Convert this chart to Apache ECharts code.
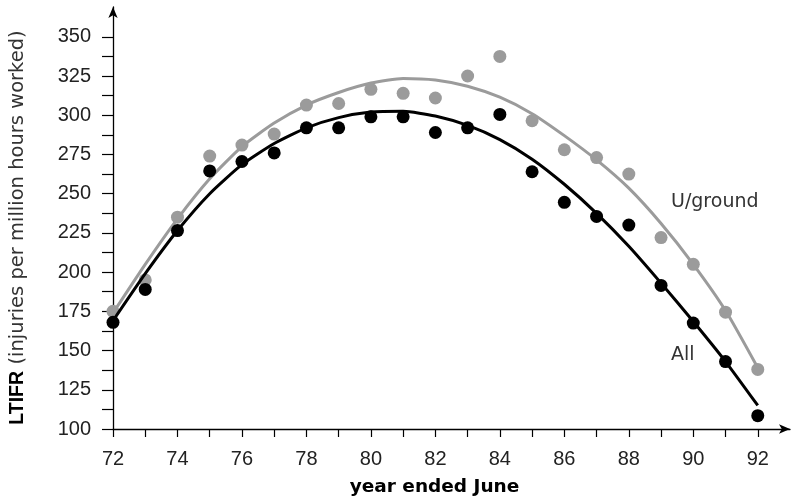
<!DOCTYPE html>
<html>
<head>
<meta charset="utf-8">
<script src="https://cdn.jsdelivr.net/npm/echarts@6/dist/echarts.min.js"></script>
<style>html,body{margin:0;padding:0;background:#fff}#c{width:794px;height:500px}</style>
</head>
<body>
<div id="c"></div>
<script>
// ---- data ----
var years = [72,73,74,75,76,77,78,79,80,81,82,83,84,85,86,87,88,89,90,91,92];
var allPoints = [168,189,226.5,264.5,270.5,276,292,292,299,299,289,292,300.5,264,244.5,235.5,230,191.5,167.5,143,108.5];
var ugPoints  = [175,195,235,274,281,288,306.5,307.5,316.5,314,311,325,337.5,296.5,278,273,262.5,222,205,174.5,138];
var allTrend  = [169,199,226.5,250,268.5,282,292,298.5,302,302.5,299.5,293.5,284.5,272,256,237.5,216.5,193,168.5,143,115];
var ugTrend   = [174,205,234,259.5,280,295,306.5,314.5,320.5,323.5,322.5,318.5,311.5,301,287,271.5,253.5,231,205,175.5,139];
var yTickValues  = [100,112.5,125,137.5,150,162.5,175,187.5,200,212.5,225,237.5,250,262.5,275,287.5,300,312.5,325,337.5,350];
var yLabelValues = [100,125,150,175,200,225,250,275,300,325,350];
var xTickValues  = years;
var xLabelValues = [72,74,76,78,80,82,84,86,88,90,92];

function pairs(xs, ys){ return xs.map(function(x,i){ return [x, ys[i]]; }); }

var NUMFONT = '"Liberation Sans", Arial, sans-serif';
var TXTFONT = '"DejaVu Sans", sans-serif';
var GRAY = '#9b9b9b';

var chart = echarts.init(document.getElementById('c'), null, {renderer:'canvas'});
chart.setOption({
  animation:false,
  backgroundColor:'#fff',
  grid:{left:113, right:4, top:7, bottom:71, containLabel:false, outerBoundsMode:'none'},
  xAxis:{
    type:'value', min:72, max:93,
    axisLine:{show:true, symbol:['none','arrow'], symbolSize:[7,11], lineStyle:{color:'#000', width:1.3}},
    axisTick:{show:true, length:8, lineStyle:{color:'#000', width:1.2}, customValues:xTickValues},
    axisLabel:{customValues:xLabelValues, margin:20, fontSize:20, fontFamily:NUMFONT, color:'#222'},
    splitLine:{show:false},
    name:'year ended June', nameLocation:'middle', nameGap:49,
    nameTextStyle:{fontSize:18.5, fontWeight:'bold', fontFamily:TXTFONT, color:'#000', padding:[0,34,0,0]}
  },
  yAxis:{
    type:'value', min:100, max:369,
    axisLine:{show:true, symbol:['none','arrow'], symbolSize:[7,11], lineStyle:{color:'#000', width:1.3}},
    axisTick:{show:true, length:11, lineStyle:{color:'#000', width:1.2}, customValues:yTickValues},
    axisLabel:{customValues:yLabelValues, margin:22, fontSize:20, fontFamily:NUMFONT, color:'#222'},
    splitLine:{show:false},
    name:'{b|LTIFR} {n|(injuries per million hours worked)}', nameLocation:'middle', nameRotate:90, nameGap:85,
    nameTextStyle:{fontSize:20, fontFamily:TXTFONT, color:'#222', padding:[0,0,0,-19],
      rich:{
        b:{fontSize:19.5, fontWeight:'bold', fontFamily:NUMFONT, color:'#000'},
        n:{fontSize:19.5, fontFamily:TXTFONT, color:'#333'}
      }}
  },
  series:[
    {type:'line', data:pairs(years, ugTrend), smooth:0.2, showSymbol:false, lineStyle:{color:GRAY, width:3}, z:2},
    {type:'scatter', data:pairs(years, ugPoints), symbolSize:13, itemStyle:{color:GRAY, opacity:1}, z:3},
    {type:'line', data:pairs(years, allTrend), smooth:0.2, showSymbol:false, lineStyle:{color:'#000', width:3}, z:4},
    {type:'scatter', data:pairs(years, allPoints), symbolSize:13, itemStyle:{color:'#000', opacity:1}, z:5}
  ],
  graphic:[
    {type:'text', left:671, top:193, style:{text:'U/ground', font:'19px '+TXTFONT, fill:'#333'}},
    {type:'text', left:671, top:346, style:{text:'All', font:'19px '+TXTFONT, fill:'#333'}}
  ]
});
</script>
</body>
</html>
